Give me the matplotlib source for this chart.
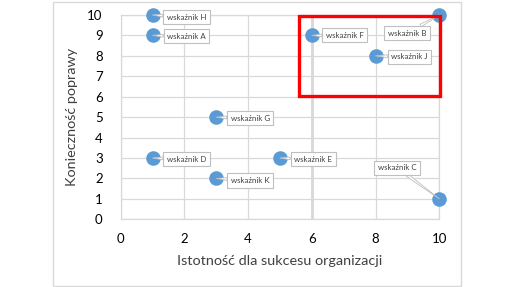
import matplotlib
matplotlib.use("Agg")
import matplotlib.pyplot as plt
from matplotlib.patches import Rectangle

# Indicators: importance for organisational success (x) vs need for improvement (y)
labels = ["wskaźnik H", "wskaźnik A", "wskaźnik F", "wskaźnik B", "wskaźnik J",
          "wskaźnik G", "wskaźnik D", "wskaźnik E", "wskaźnik K", "wskaźnik C"]
istotnosc = [1, 1, 6, 10, 8, 3, 1, 5, 3, 10]
koniecznosc = [10, 9, 9, 10, 8, 5, 3, 3, 2, 1]

# Callout box offsets (pixels) relative to each point
offsets = [(34, -2), (34, -1), (33, 0), (-32, -18), (34, -1),
           (34, -1), (34, -1), (33, -1), (34, -2), (-42, 31)]

x_ticks = [0, 2, 4, 6, 8, 10]
y_ticks = list(range(0, 11))

grid_c = "#D9D9D9"
point_c = "#5B9BD5"
text_c = "#404040"

plt.rcParams["font.family"] = ["Lato", "DejaVu Sans"]

fig = plt.figure(figsize=(5.13, 2.87), dpi=100)
ax = fig.add_axes([120.7 / 513, 1 - 219.3 / 287, (439.3 - 120.7) / 513, (219.3 - 15) / 287])

# chart area border
fig.patches.append(Rectangle((52.7 / 513, 1 / 287), (461 - 52.7) / 513, (285.5 - 1) / 287,
                             transform=fig.transFigure, fill=False, ec=grid_c, lw=1.0))

ax.set_xlim(0, 10)
ax.set_ylim(0, 10)
ax.set_xticks(x_ticks)
ax.set_yticks(y_ticks)
ax.grid(True, color=grid_c, lw=0.9)
ax.axvline(6, color="#D0D0D0", lw=1.8, zorder=0.5)
ax.set_axisbelow(True)
for s in ax.spines.values():
    s.set_color(grid_c)
    s.set_linewidth(0.9)
ax.tick_params(length=0, labelsize=9.5, labelcolor="#000000")
ax.tick_params(axis="x", pad=10)
ax.tick_params(axis="y", pad=13)

ax.set_xlabel("Istotność dla sukcesu organizacji", fontsize=10.4, color=text_c, labelpad=7)
ax.set_ylabel("Konieczność poprawy", fontsize=10.4, color=text_c, labelpad=7)

ax.scatter(istotnosc, koniecznosc, s=110, color=point_c, zorder=3, clip_on=False, linewidths=0)

for lab, x, y, off in zip(labels, istotnosc, koniecznosc, offsets):
    ax.annotate(lab, xy=(x, y), xytext=off, textcoords="offset pixels",
                ha="center", va="center", fontsize=5.7, color=text_c,
                bbox=dict(boxstyle="square,pad=0.45", fc="white", ec="#BFBFBF", lw=0.8),
                arrowprops=dict(arrowstyle="wedge,tail_width=0.35,shrink_factor=0.5",
                                fc="white", ec="#BFBFBF", lw=0.6, shrinkA=0, shrinkB=0),
                zorder=4, annotation_clip=False)

# highlighted region
ax.add_patch(Rectangle((5.6, 6.05), 10.02 - 5.6, 9.95 - 6.05, fill=False,
                       ec="#FF0000", lw=2.4, zorder=5, clip_on=False))

fig.savefig("out.png", dpi=100)
